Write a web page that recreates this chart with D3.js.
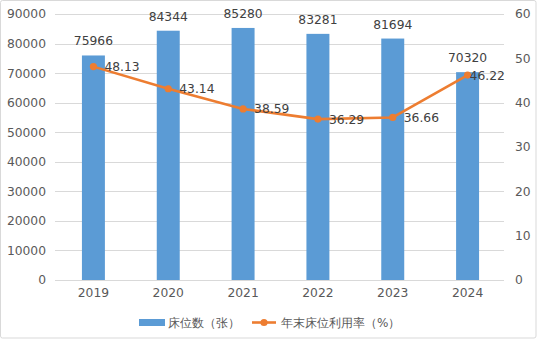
<!DOCTYPE html>
<html>
<head>
<meta charset="utf-8">
<script src="https://cdn.jsdelivr.net/npm/d3@7"></script>
<style>
  html, body { margin: 0; padding: 0; background: #fff; }
  svg { display: block; }
  text { font-family: "DejaVu Sans", Verdana, sans-serif; }
</style>
</head>
<body>
<svg id="chart" width="539" height="342"></svg>
<script>
// Hospital beds and year-end bed utilisation rate, 2019-2024
const years = ["2019", "2020", "2021", "2022", "2023", "2024"];
const beds = [75966, 84344, 85280, 83281, 81694, 70320];
const rates = [48.13, 43.14, 38.59, 36.29, 36.66, 46.22];
const bedTicks = [0, 10000, 20000, 30000, 40000, 50000, 60000, 70000, 80000, 90000];
const rateTicks = [0, 10, 20, 30, 40, 50, 60];
const seriesNames = ["床位数（张）", "年末床位利用率（%）"];

const BAR = "#5B9BD5", LINE = "#ED7D31", GRID = "#D9D9D9", AXIS_TXT = "#595959", LABEL_TXT = "#404040";

const svg = d3.select("#chart");
const plot = { left: 55, right: 504, top: 14, bottom: 280 };

// chart frame
svg.append("rect")
  .attr("x", 0.5).attr("y", 0.5).attr("width", 535.5).attr("height", 337.5)
  .attr("rx", 2).attr("fill", "#fff").attr("stroke", GRID);

const x = d3.scaleBand().domain(years).range([plot.left + 1, plot.right + 1])
  .paddingInner(0.693).paddingOuter(0.3465);
const yL = d3.scaleLinear().domain([0, 90000]).range([plot.bottom, plot.top]);
const yR = d3.scaleLinear().domain([0, 60]).range([plot.bottom, plot.top]);

// gridlines
svg.append("g").selectAll("line").data(bedTicks).join("line")
  .attr("x1", plot.left).attr("x2", plot.right)
  .attr("y1", d => Math.round(yL(d)) + 0.5).attr("y2", d => Math.round(yL(d)) + 0.5)
  .attr("stroke", GRID).attr("stroke-width", 1);

// left axis
const axL = svg.append("g").attr("transform", `translate(${plot.left - 9},0)`)
  .call(d3.axisLeft(yL).tickValues(bedTicks).tickSize(0).tickPadding(0).tickFormat(d3.format("d")));
axL.select(".domain").remove();
axL.selectAll("text").attr("fill", AXIS_TXT).attr("font-size", 12.3)
  .attr("font-family", "DejaVu Sans, sans-serif");

// right axis
const axR = svg.append("g").attr("transform", `translate(${plot.right + 11},0)`)
  .call(d3.axisRight(yR).tickValues(rateTicks).tickSize(0).tickPadding(0));
axR.select(".domain").remove();
axR.selectAll("text").attr("fill", AXIS_TXT).attr("font-size", 12.3)
  .attr("font-family", "DejaVu Sans, sans-serif");

// bottom axis
const axB = svg.append("g").attr("transform", `translate(0,${plot.bottom})`)
  .call(d3.axisBottom(x).tickSize(0).tickPadding(8));
axB.select(".domain").attr("stroke", GRID).attr("d", `M${plot.left},0.5H${plot.right}`);
axB.selectAll("text").attr("fill", AXIS_TXT).attr("font-size", 12.3)
  .attr("font-family", "DejaVu Sans, sans-serif");

// bars
svg.append("g").selectAll("rect").data(years).join("rect")
  .attr("x", d => x(d)).attr("width", x.bandwidth())
  .attr("y", (d, i) => yL(beds[i])).attr("height", (d, i) => yL(0) - yL(beds[i]))
  .attr("fill", BAR);

// bar value labels
svg.append("g").selectAll("text").data(years).join("text")
  .attr("x", d => x(d) + x.bandwidth() / 2)
  .attr("y", (d, i) => yL(beds[i]) - 10)
  .attr("text-anchor", "middle").attr("font-size", 12.3).attr("fill", LABEL_TXT)
  .text((d, i) => beds[i]);

// utilisation line
const cx = d => x(d) + x.bandwidth() / 2;
const line = d3.line().x((d, i) => cx(years[i])).y(d => yR(d));
svg.append("path").datum(rates).attr("d", line)
  .attr("fill", "none").attr("stroke", LINE).attr("stroke-width", 2.6)
  .attr("stroke-linejoin", "round").attr("stroke-linecap", "round");
svg.append("g").selectAll("circle").data(rates).join("circle")
  .attr("cx", (d, i) => cx(years[i])).attr("cy", d => yR(d)).attr("r", 3.6)
  .attr("fill", LINE);

// rate labels, right of each point (last one pulled inward)
svg.append("g").selectAll("text").data(rates).join("text")
  .attr("x", (d, i) => cx(years[i]) + (i === rates.length - 1 ? 2 : 11))
  .attr("y", d => yR(d)).attr("dy", "0.36em")
  .attr("font-size", 12.3).attr("fill", LABEL_TXT)
  .text(d => d3.format(".2f")(d));

// legend
const lg = svg.append("g");
lg.append("rect").attr("x", 139).attr("y", 319).attr("width", 26).attr("height", 7).attr("fill", BAR);
lg.append("text").attr("x", 168).attr("y", 327)
  .attr("font-family", "Noto Sans CJK SC, sans-serif").attr("font-size", 12).attr("fill", AXIS_TXT)
  .text(seriesNames[0]);
lg.append("line").attr("x1", 252).attr("x2", 276).attr("y1", 322.5).attr("y2", 322.5)
  .attr("stroke", LINE).attr("stroke-width", 2.6);
lg.append("circle").attr("cx", 264).attr("cy", 322.5).attr("r", 3.6).attr("fill", LINE);
lg.append("text").attr("x", 281).attr("y", 327)
  .attr("font-family", "Noto Sans CJK SC, sans-serif").attr("font-size", 12).attr("fill", AXIS_TXT)
  .text(seriesNames[1]);
</script>
</body>
</html>
